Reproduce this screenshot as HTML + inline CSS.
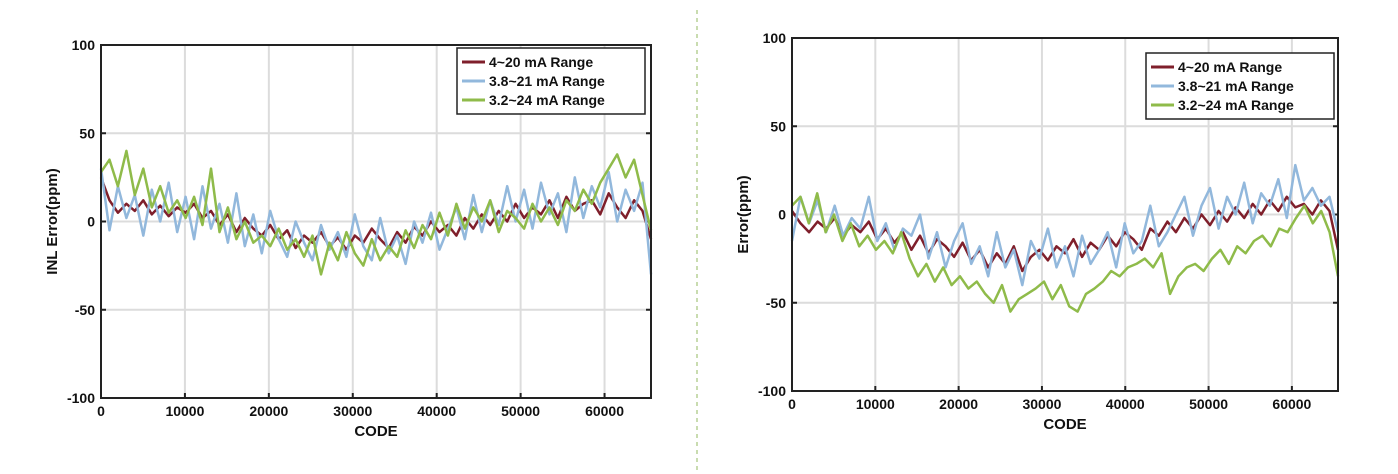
<!DOCTYPE html>
<html><head><meta charset="utf-8">
<style>
html,body{margin:0;padding:0;background:#fff;}
svg{display:block;font-family:"Liberation Sans",Arial,sans-serif;font-weight:bold;}
</style></head>
<body>
<svg id="svg" width="1398" height="474" viewBox="0 0 1398 474">
<line x1="697" y1="10" x2="697" y2="474" stroke="#c9dcb0" stroke-width="2" stroke-dasharray="4,4"/>
<g id="c1"></g>
<g id="c2"></g>
</svg>
<script>
const xTicks=[0,10000,20000,30000,40000,50000,60000];
const yTicks=[100,50,0,-50,-100];
const seriesNames=["4~20 mA Range","3.8~21 mA Range","3.2~24 mA Range"];
const seriesColors=["#7f1f2b","#92b8dc","#8fbb4a"];
const red1=[25,12,5,10,6,12,4,9,3,8,5,10,2,6,-2,4,-6,2,-4,-8,-2,-10,-5,-15,-8,-12,-6,-14,-9,-16,-8,-12,-4,-10,-15,-6,-12,-3,-8,0,-6,-2,-8,2,-4,4,-2,6,0,10,2,8,4,12,2,14,6,10,12,4,16,8,2,12,6,-10];
const blue1=[30,-5,20,2,15,-8,18,0,22,-6,14,-10,20,-4,10,-12,16,-14,4,-18,6,-10,-20,0,-12,-22,-2,-16,-6,-20,4,-14,-22,2,-18,-8,-24,0,-12,5,-16,-4,8,-10,15,-6,12,-2,20,0,18,-4,22,4,16,-6,25,2,20,8,28,0,18,6,22,-30];
const green1=[28,35,20,40,15,30,8,20,5,12,2,14,-2,30,-6,8,-10,0,-12,-8,-14,-4,-16,-10,-20,-8,-30,-12,-22,-6,-18,-25,-10,-22,-14,-20,-5,-15,-2,-10,5,-8,10,-4,8,0,12,-6,6,2,-4,10,0,8,-2,12,6,18,10,22,30,38,25,35,15,-5];
const red2=[2,-5,-10,-4,-8,-2,-12,-6,-10,-4,-14,-8,-16,-10,-20,-12,-22,-14,-18,-24,-16,-26,-20,-30,-22,-28,-18,-32,-24,-20,-26,-18,-22,-14,-24,-16,-20,-12,-18,-10,-14,-20,-8,-12,-4,-10,-2,-8,0,-6,2,-4,4,-2,6,0,8,2,10,4,6,0,8,2,-20];
const blue2=[-15,10,-5,8,-10,5,-12,-2,-8,10,-15,-5,-20,-8,-12,0,-25,-10,-30,-15,-5,-28,-18,-35,-10,-30,-20,-40,-15,-25,-8,-30,-18,-35,-12,-28,-20,-10,-30,-5,-22,-15,5,-18,-10,0,10,-12,5,15,-8,10,0,18,-5,12,5,20,-2,28,8,15,5,10,-10];
const green2=[5,10,-5,12,-10,0,-15,-5,-18,-12,-20,-15,-22,-10,-25,-35,-28,-38,-30,-40,-35,-42,-38,-45,-50,-40,-55,-48,-45,-42,-38,-48,-40,-52,-55,-45,-42,-38,-32,-35,-30,-28,-25,-30,-22,-45,-35,-30,-28,-32,-25,-20,-28,-18,-22,-15,-12,-18,-8,-10,-2,5,-5,2,-10,-35];
const NS="http://www.w3.org/2000/svg";
function mk(p,tag,a){const e=document.createElementNS(NS,tag);for(const k in a)e.setAttribute(k,a[k]);p.appendChild(e);return e;}
function chart(g,L,T,R,B,ylabel,data,leg,pfx){
  const xs=v=>L+(v/65535)*(R-L)*(65535/65535);
  const sx=v=>L+v*(R-L)/65535;
  const sy=v=>T+(100-v)*(B-T)/200;
  xTicks.forEach(t=>{if(t>0){const l=mk(g,"line",{x1:sx(t),x2:sx(t),y1:T,y2:B,stroke:"#dcdcdc","stroke-width":2});
    
    }
    const tx=mk(g,"text",{x:sx(t),y:B+18,"text-anchor":"middle","font-size":14,fill:"#111"});tx.textContent=t;
    
    
    mk(g,"line",{x1:sx(t),x2:sx(t),y1:B,y2:B-5,stroke:"#222","stroke-width":2});});
  yTicks.forEach(t=>{if(t<100&&t>-100){const l=mk(g,"line",{x1:L,x2:R,y1:sy(t),y2:sy(t),stroke:"#dcdcdc","stroke-width":2});
    
    }
    const tx=mk(g,"text",{x:L-6,y:sy(t)+5,"text-anchor":"end","font-size":14,fill:"#111"});tx.textContent=t;
    
    
    mk(g,"line",{x1:L,x2:L+5,y1:sy(t),y2:sy(t),stroke:"#222","stroke-width":2});
    mk(g,"line",{x1:R,x2:R-5,y1:sy(t),y2:sy(t),stroke:"#222","stroke-width":2});});
  data.forEach((arr,si)=>{const n=arr.length;
    const pts=arr.map((v,i)=>sx(i*65535/(n-1)).toFixed(1)+","+sy(v).toFixed(1)).join(" ");
    const pl=mk(g,"polyline",{points:pts,fill:"none",stroke:seriesColors[si],"stroke-width":2.5,"stroke-linejoin":"round"});
    
    });
  const box=mk(g,"rect",{x:L,y:T,width:R-L,height:B-T,fill:"none",stroke:"#222","stroke-width":2});
  
  
  const lg=mk(g,"g",{});
  
  
  mk(lg,"rect",{x:leg[0],y:leg[1],width:188,height:66,fill:"#fff",stroke:"#222","stroke-width":1.5});
  seriesNames.forEach((s,i)=>{const y=leg[1]+14+i*19;
    mk(lg,"line",{x1:leg[0]+5,x2:leg[0]+28,y1:y,y2:y,stroke:seriesColors[i],"stroke-width":3});
    const t=mk(lg,"text",{x:leg[0]+32,y:y+5,"font-size":14,fill:"#111"});t.textContent=s;
    
    });
  const xl=mk(g,"text",{x:(L+R)/2,y:B+38,"text-anchor":"middle","font-size":15,fill:"#111"});xl.textContent="CODE";
  
  
  const cx=L-44,cy=(T+B)/2;
  const yl=mk(g,"text",{x:cx,y:cy,"text-anchor":"middle","font-size":15,fill:"#111",transform:`rotate(-90 ${cx} ${cy})`});yl.textContent=ylabel;
  
  
}
chart(document.getElementById("c1"),101,45,651,398,"INL Error(ppm)",[red1,blue1,green1],[457,48],"inl");
chart(document.getElementById("c2"),792,38,1338,391,"Error(ppm)",[red2,blue2,green2],[1146,53],"err");
</script>
</body></html>
